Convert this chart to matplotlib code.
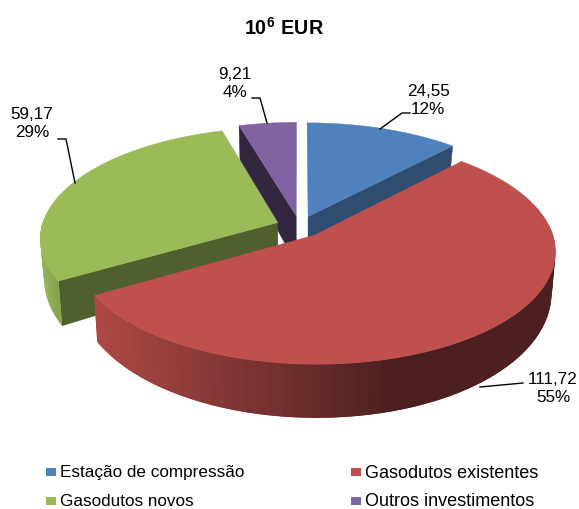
"""Camembert 3D eclate : investissements en 10^6 EUR."""

import matplotlib

matplotlib.use("Agg")
import matplotlib.pyplot as plt
import numpy as np
from matplotlib.colors import to_rgb
from matplotlib.patches import Rectangle

plt.rcParams["font.family"] = ["Liberation Sans", "DejaVu Sans"]
plt.rcParams["mathtext.fontset"] = "custom"
plt.rcParams["mathtext.bf"] = "Liberation Sans:bold"

categories = ["Estação de compressão", "Gasodutos existentes", "Gasodutos novos", "Outros investimentos"]
values = [24.55, 111.72, 59.17, 9.21]
percents = [12, 55, 29, 4]

top_colors = ["#4F81BD", "#C0504D", "#9BBB59", "#8064A2"]
wall_colors = ["#2F4D71", "#8E3A38", "#4F5F2D", "#33273F"]

# projection du disque vers les pixels (perspective simple)
CX, CY = 299.5, 226.6
A, B = 236, 109
K = 0.1357
EXPLODE = 0.1


def project(theta, r, mid):
    """theta en radians, sens horaire depuis le haut."""
    u = r * np.sin(theta) + EXPLODE * np.sin(mid)
    v = r * np.cos(theta) + EXPLODE * np.cos(mid)
    w = 1 + K * v
    return CX + A * u / w, CY - B * v / w, v


def project_base(theta, r, mid):
    x, y, v = project(theta, r, mid)
    return CX + (x - CX) * 0.985, y + 38 - 14.5 * v


def shade(c1, c2, t):
    c1, c2 = np.array(to_rgb(c1)), np.array(to_rgb(c2))
    return tuple(c1 + (c2 - c1) * np.clip(t, 0, 1))


def arc(start, end, mid, n=160):
    th = np.linspace(start, end, n)
    x, y, _ = project(th, 1.0, mid)
    x0, y0, _ = project(0.0, 0.0, mid)
    return np.r_[x0, x], np.r_[y0, y]


def wall(ax, theta, mid, color, extra=0):
    """face radiale de la part, du centre au bord."""
    rr = np.array([0.0, 1.0])
    x, y, _ = project(theta, rr, mid)
    bx, by = project_base(theta, rr, mid)
    ax.fill(np.r_[x, bx[::-1]], np.r_[y, by[::-1] + extra], color=color, lw=0.3)


def rim(ax, start, end, mid, left, right, x_left, x_right, n=60):
    """bord exterieur en bandes, degrade selon x (bandes qui se recouvrent)."""
    th = np.linspace(start, end, n)
    x, y, _ = project(th, 1.0, mid)
    bx, by = project_base(th, 1.0, mid)
    for i in range(n - 1):
        j = min(i + 2, n - 1)
        t = ((x[i] + x[j]) / 2 - x_left) / (x_right - x_left)
        ax.fill([x[i], x[j], bx[j], bx[i]],
                [y[i], y[j], by[j], by[i]],
                color=shade(left, right, t), lw=0)


fig = plt.figure(figsize=(5.79, 5.09), dpi=100)
ax = fig.add_axes([0, 0, 1, 1])
ax.set_xlim(0, 579)
ax.set_ylim(509, 0)
ax.axis("off")

# bornes angulaires des parts, calculees depuis les valeurs
fractions = np.array(values) / sum(values)
edges = np.r_[0, np.cumsum(fractions)] * 2 * np.pi
starts, ends = edges[:-1], edges[1:]
mids = (starts + ends) / 2

# ordre : du fond vers l'avant
wall(ax, starts[3], mids[3], wall_colors[3], extra=12)
x, y = arc(starts[3], ends[3], mids[3])
ax.fill(x, y, color=top_colors[3], lw=0.3)

wall(ax, ends[0], mids[0], wall_colors[0])
x, y = arc(starts[0], ends[0], mids[0])
ax.fill(x, y, color=top_colors[0], lw=0.3)

wall(ax, starts[2], mids[2], wall_colors[2])
rim(ax, starts[2], np.radians(272), mids[2], "#93B254", "#7F9A48", 40, 70)
x, y = arc(starts[2], ends[2], mids[2])
ax.fill(x, y, color=top_colors[2], lw=0.3)

rim(ax, np.radians(85), ends[1], mids[1], "#AB4744", "#4C2020", 100, 385)
x, y = arc(starts[1], ends[1], mids[1])
ax.fill(x, y, color=top_colors[1], lw=0.3)

# etiquettes et traits de rappel
label_xy = [(428, 100), (553, 388), (32, 123), (235, 83)]
leaders = [
    [(380, 129), (402, 113), (410, 113)],
    [(480, 387), (523, 383)],
    [(58, 139), (66, 139), (75, 183)],
    [(252, 98), (260, 98), (267, 123)],
]
for val, pct, (lx, ly), pts in zip(values, percents, label_xy, leaders):
    txt = f"{val:.2f}".replace(".", ",")
    ax.text(lx, ly, f"{txt}\n{pct}%", ha="center", va="center",
            fontsize=12.3, color="black", linespacing=1.25)
    ax.plot(*zip(*pts), color="black", lw=1)

ax.text(284, 28, r"$\mathbf{10^{6}\ EUR}$", ha="center", va="center", fontsize=14.2)

# legende placee a la main : la colonne de droite est un peu plus large
legend_xy = [(46, 473), (351, 473), (46, 502), (351, 502)]
legend_size = [12.3, 13, 12.3, 13]
for name, color, (lx, ly), fs in zip(categories, top_colors, legend_xy, legend_size):
    ax.add_patch(Rectangle((lx, ly - 5), 9.5, 8, color=color, lw=0))
    ax.text(lx + 14, ly, name, ha="left", va="center", fontsize=fs, color="black")

fig.savefig("out.png", dpi=100)
